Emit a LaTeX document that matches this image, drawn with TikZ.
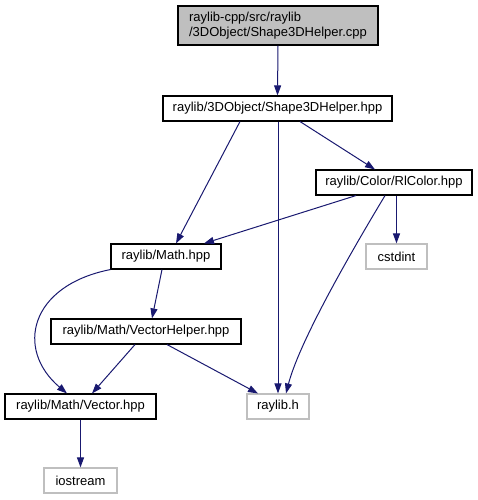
\documentclass[tikz,border=0pt]{standalone}
\usepackage{fontspec}
\setmainfont{Liberation Sans}
\usetikzlibrary{arrows.meta,calc}
\definecolor{edgeblue}{HTML}{191970}
\definecolor{lgray}{HTML}{BFBFBF}
\begin{document}
\begin{tikzpicture}[x=1pt,y=-1pt,
  box/.style={draw=black,line width=1.1pt,inner sep=0pt,minimum height=25pt,font=\fontsize{13}{15}\selectfont,fill=white},
  sys/.style={box,draw=lgray},
  dep/.style={draw=edgeblue,line width=1pt,-{Triangle[length=10pt,width=7pt]}}]
\useasboundingbox (0,0) rectangle (477,500);
\node[box,fill=lgray,minimum width=200pt,minimum height=39pt,align=left] (top) at (278,25.5) {raylib-cpp/src/raylib\\/3DObject/Shape3DHelper.cpp};
\node[box,minimum width=229pt] (shp) at (277.5,108.5) {raylib/3DObject/Shape3DHelper.hpp};
\node[box,minimum width=156pt] (col) at (394,182.5) {raylib/Color/RlColor.hpp};
\node[box,minimum width=110pt] (math) at (166,256.5) {raylib/Math.hpp};
\node[sys,minimum width=61pt] (cst) at (396.5,256.5) {cstdint};
\node[box,minimum width=190pt] (vh) at (146,331.5) {raylib/Math/VectorHelper.hpp};
\node[box,minimum width=151pt] (vec) at (80.5,406.5) {raylib/Math/Vector.hpp};
\node[sys,minimum width=62pt] (rh) at (278,406.5) {raylib.h};
\node[sys,minimum width=73pt] (ios) at (80.5,480.5) {iostream};
\draw[dep] (top.south) -- (shp.north);
\draw[dep] ($(shp.south)+(-37.5,0)$) -- ($(math.north)+(10,0)$);
\draw[dep] (rh.north |- shp.south) -- (rh.north);
\draw[dep] ($(shp.south)+(22.5,0)$) -- ($(col.north)+(-19,0)$);
\draw[dep] ($(col.south)+(-38,0)$) -- ($(math.north)+(38,0)$);
\draw[dep] (cst.north |- col.south) -- (cst.north);
\draw[dep] ($(col.south)+(-9,0)$) .. controls +(-30,50) and +(14,-54) .. ($(rh.north)+(8,0)$);
\draw[dep] (math.south west) .. controls +(-81,16) and +(-52,-44) .. ($(vec.north)+(-13.5,0)$);
\draw[dep] ($(math.south)+(-4,0)$) -- ($(vh.north)+(6,0)$);
\draw[dep] ($(vh.south)+(-11,0)$) -- ($(vec.north)+(11.5,0)$);
\draw[dep] ($(vh.south)+(21,0)$) -- ($(rh.north)+(-20,0)$);
\draw[dep] (vec.south) -- (ios.north);
\end{tikzpicture}
\end{document}
